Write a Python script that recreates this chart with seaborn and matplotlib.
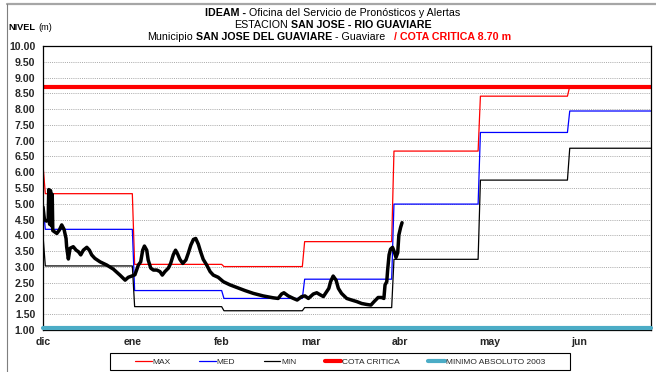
import numpy as np
import pandas as pd
import matplotlib
matplotlib.use("Agg")
import matplotlib.pyplot as plt
import seaborn as sns
from matplotlib.lines import Line2D
from matplotlib.patches import Rectangle

# ---------------------------------------------------------------- data
# day 0 = 1 December; axis runs to 30 June
month_start = [0, 31, 62, 90, 121, 151, 182]
axis_end = 211
tick_days = [0, 31, 62, 93, 124, 155, 186]
tick_labels = ["dic", "ene", "feb", "mar", "abr", "may", "jun"]

# monthly historical levels (m): previous November, then dic..jun
max_level = [6.23, 5.32, 3.08, 3.01, 3.80, 6.67, 8.41, 8.72]
med_level = [5.00, 4.19, 2.25, 2.00, 2.61, 4.99, 7.26, 7.94]
min_level = [4.00, 3.03, 1.74, 1.61, 1.71, 3.24, 5.75, 6.76]

cota_critica = 8.70
minimo_absoluto = 1.06

# observed daily level of the current season
obs_day = [0.0, 0.5, 1.2, 1.8, 2.0, 2.3, 2.6, 2.9, 3.2, 3.4, 4.8, 5.7, 6.5,
           7.3, 8.0, 8.2, 8.8, 9.4, 10.5, 11.5, 12.3, 13.1, 14.0, 15.2, 16.1,
           16.9, 18.0, 19.8, 22.1, 24.4, 26.7, 28.5, 29.6, 30.8, 31.9, 33.1,
           33.9, 34.6, 35.2, 36.0, 36.5, 37.4, 38.3, 39.5, 40.6, 41.4, 42.3,
           43.5, 44.3, 45.2, 46.0, 46.7, 47.5, 48.5, 49.6, 50.4, 51.3, 52.2,
           53.0, 53.9, 54.7, 55.6, 56.8, 58.0, 59.1, 60.8, 62.6, 64.9, 67.2,
           70.1, 73.0, 76.4, 79.9, 81.6, 82.8, 83.6, 85.1, 86.9, 88.2, 89.8,
           90.9, 92.1, 93.8, 95.0, 96.1, 97.3, 98.4, 99.2, 99.8, 100.7, 101.7,
           102.5, 103.6, 105.4, 107.1, 108.9, 110.6, 112.3, 113.8, 114.9,
           116.3, 117.5, 118.3, 118.7, 119.3, 119.6, 120.1, 120.6, 121.3,
           121.9, 122.5, 123.1, 123.5, 124.1, 124.6]
obs_level = [4.90, 4.50, 4.45, 4.50, 5.45, 4.35, 5.42, 4.30, 5.30, 4.15, 4.06,
             4.17, 4.33, 4.19, 3.90, 3.64, 3.25, 3.59, 3.64, 3.53, 3.48, 3.38,
             3.53, 3.62, 3.53, 3.38, 3.27, 3.16, 3.06, 2.93, 2.74, 2.58, 2.67,
             2.71, 2.75, 3.06, 3.16, 3.53, 3.66, 3.53, 3.22, 2.96, 2.90, 2.90,
             2.85, 2.74, 2.85, 2.96, 3.11, 3.38, 3.53, 3.41, 3.24, 3.11, 3.22,
             3.43, 3.69, 3.87, 3.90, 3.72, 3.48, 3.24, 3.06, 2.85, 2.74, 2.67,
             2.53, 2.43, 2.35, 2.25, 2.16, 2.08, 2.02, 2.00, 2.14, 2.18, 2.08,
             2.00, 1.95, 2.06, 2.08, 2.00, 2.14, 2.18, 2.12, 2.06, 2.21, 2.32,
             2.53, 2.71, 2.58, 2.32, 2.16, 2.00, 1.95, 1.90, 1.84, 1.81, 1.79,
             1.90, 2.03, 2.03, 2.00, 2.43, 2.53, 2.90, 3.38, 3.56, 3.62, 3.48,
             3.30, 3.45, 4.01, 4.25, 4.40]

RED, BLUE, BLACK = "#ff0000", "#0000ff", "#000000"
TEAL = "#4bacc6"


def monthly_steps(levels, ramp=0.8):
    """Daily step curve: each month's level held from its first to last day."""
    bounds = month_start + [axis_end]
    days, vals = [0.0], [levels[0]]
    for i in range(len(month_start)):
        days += [bounds[i] + ramp, bounds[i + 1]]
        vals += [levels[i + 1]] * 2
    return pd.DataFrame({"day": days, "level": vals})


# ---------------------------------------------------------------- figure
sns.set_style("white")
plt.rcParams["font.family"] = ["Liberation Sans", "DejaVu Sans"]

W, H = 656, 372
fig = plt.figure(figsize=(W / 100, H / 100), dpi=100)
ax = fig.add_axes([43 / W, 1 - 330 / H, 608 / W, 284 / H])

for levels, color in [(max_level, RED), (med_level, BLUE), (min_level, BLACK)]:
    sns.lineplot(data=monthly_steps(levels), x="day", y="level", color=color,
                 lw=0.9, estimator=None, sort=False, ax=ax, legend=False)

limits = pd.DataFrame({"day": [0, axis_end],
                       "cota": [cota_critica] * 2,
                       "minimo": [minimo_absoluto] * 2})
sns.lineplot(data=limits, x="day", y="cota", color=RED, lw=3.0, ax=ax,
             legend=False)
sns.lineplot(data=limits, x="day", y="minimo", color=TEAL, lw=3.0, ax=ax,
             legend=False, clip_on=False, zorder=5)

obs = pd.DataFrame({"day": obs_day, "level": obs_level})
sns.lineplot(data=obs, x="day", y="level", color=BLACK, lw=2.5,
             estimator=None, sort=False, ax=ax, legend=False, zorder=6,
             solid_joinstyle="round", solid_capstyle="round")

ax.set_xlim(0, axis_end)
ax.set_ylim(1, 10)
yt = np.arange(1.0, 10.01, 0.5)
ax.set_yticks(yt)
ax.set_yticklabels([f"{v:.2f}" for v in yt])
ax.set_xticks(tick_days)
ax.set_xticklabels(tick_labels)
ax.set_xlabel("")
ax.set_ylabel("")
ax.grid(axis="y", color="#a8a8a8", ls=(0, (1, 1.2)), lw=0.7)
ax.grid(axis="x", visible=False)
ax.set_axisbelow(True)
for sp in ax.spines.values():
    sp.set_color("black")
    sp.set_linewidth(0.9)
ax.tick_params(axis="both", direction="out", length=3, width=0.8,
               labelsize=7.6, pad=2.5, color="black")
ax.tick_params(axis="x", pad=2)
for lbl in ax.get_xticklabels() + ax.get_yticklabels():
    lbl.set_fontweight("bold")

# ---------------------------------------------------------------- texts
renderer = fig.canvas.get_renderer()


def rich_line(y_px, pieces, size=7.0, center_px=None, left_px=None, gap=2.8):
    texts = [fig.text(0, 1 - y_px / H, s, fontsize=size, fontweight=w,
                      color=c, va="center", ha="left")
             for s, w, c in pieces]
    widths = [t.get_window_extent(renderer).width for t in texts]
    total = sum(widths) + gap * (len(texts) - 1)
    x = left_px if left_px is not None else center_px - total / 2
    for t, w in zip(texts, widths):
        t.set_x(x / W)
        x += w + gap


rich_line(12.5, [("IDEAM -", "bold", BLACK),
                 ("Oficina del Servicio de Pronósticos y Alertas", "normal", BLACK)],
          size=7.7, center_px=333)
rich_line(24.5, [("ESTACION", "normal", BLACK),
                 ("SAN JOSE - RIO GUAVIARE", "bold", BLACK)],
          size=7.7, center_px=333)
rich_line(36.5, [("Municipio", "normal", BLACK),
                 ("SAN JOSE DEL GUAVIARE", "bold", BLACK),
                 ("- Guaviare", "normal", BLACK),
                 ("  / COTA CRITICA 8.70 m", "bold", RED)],
          size=7.7, center_px=329)
rich_line(28, [("NIVEL", "bold", BLACK), ("(m)", "normal", BLACK)],
          size=6.6, left_px=8.5)

# ---------------------------------------------------------------- legend
handles = [Line2D([], [], color=RED, lw=0.9),
           Line2D([], [], color=BLUE, lw=0.9),
           Line2D([], [], color=BLACK, lw=0.9),
           Line2D([], [], color=RED, lw=3.0),
           Line2D([], [], color=TEAL, lw=3.0)]
names = ["MAX", "MED", "MIN", "COTA CRITICA", "MINIMO ABSOLUTO 2003"]
fig.legend(handles, names, loc="center", bbox_to_anchor=(340 / W, 1 - 362 / H),
           ncol=5, frameon=False, fontsize=6.0, handlelength=2.0,
           handletextpad=0.1, columnspacing=3.4)
fig.add_artist(Rectangle((110 / W, 1 - 370 / H), 460 / W, 17 / H,
                         transform=fig.transFigure, fill=False,
                         edgecolor="black", lw=0.8))

# outer chart frame
fig.add_artist(Line2D([7 / W, 1], [1 - 4 / H] * 2, transform=fig.transFigure,
                      color="#a6a6a6", lw=1.6))
fig.add_artist(Line2D([7 / W] * 2, [0, 1 - 4 / H], transform=fig.transFigure,
                      color="#7f7f7f", lw=0.8))

fig.savefig("out.png", dpi=100)
